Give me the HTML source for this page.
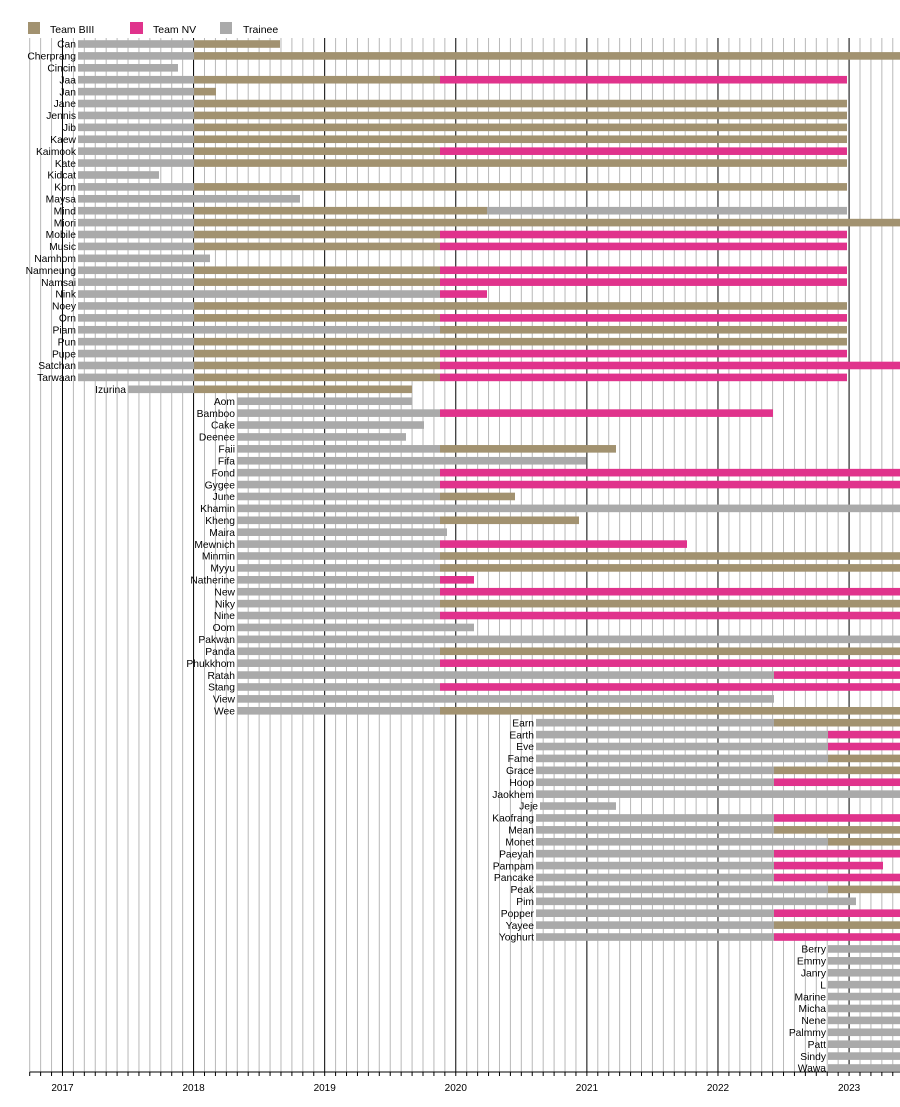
<!DOCTYPE html>
<html><head><meta charset="utf-8"><style>
html,body{margin:0;padding:0;background:#fff;}
svg{display:block;font-family:"Liberation Sans",sans-serif;}
</style></head><body>
<svg id="c" width="900" height="1107" xmlns="http://www.w3.org/2000/svg"></svg>
<script>
const svg=document.getElementById('c');
let h='';
const O='#a29270',P='#e0338c',G='#aaaaaa';
h+=`<rect x="28" y="22" width="12" height="12" fill="${O}"/><text x="50" y="33" font-size="10.5">Team BIII</text>`;
h+=`<rect x="130" y="22" width="13" height="12" fill="${P}"/><text x="153" y="33" font-size="10.5">Team NV</text>`;
h+=`<rect x="220" y="22" width="12" height="12" fill="${G}"/><text x="243" y="33" font-size="10.5">Trainee</text>`;
const m=131.1/12;
for(let i=0;;i++){const x=29.7+i*m;if(x>900)break;const yr=(i%12)==3;
h+=`<line x1="${x}" y1="38" x2="${x}" y2="1072" stroke="${yr?'#000':'#b8b8b8'}" stroke-width="1"/>`;
h+=`<line x1="${x}" y1="1072" x2="${x}" y2="1076" stroke="#000"/>`;}
h+=`<line x1="29.7" y1="1072" x2="900" y2="1072" stroke="#000"/>`;
for(let y=0;y<7;y++){h+=`<text x="${62.5+y*131.1}" y="1091" font-size="10" text-anchor="middle">${2017+y}</text>`;}
const rows=[
['Can',78,[[194,G],[280,O]]],['Cherprang',78,[[194,G],[900,O]]],['Cincin',78,[[178,G]]],
['Jaa',78,[[194,G],[440,O],[847,P]]],['Jan',78,[[194,G],[216,O]]],['Jane',78,[[194,G],[847,O]]],
['Jennis',78,[[194,G],[847,O]]],['Jib',78,[[194,G],[847,O]]],['Kaew',78,[[194,G],[847,O]]],
['Kaimook',78,[[194,G],[440,O],[847,P]]],['Kate',78,[[194,G],[847,O]]],['Kidcat',78,[[159,G]]],
['Korn',78,[[194,G],[847,O]]],['Maysa',78,[[300,G]]],['Mind',78,[[194,G],[487,O],[847,G]]],
['Miori',78,[[194,G],[900,O]]],['Mobile',78,[[194,G],[440,O],[847,P]]],['Music',78,[[194,G],[440,O],[847,P]]],
['Namhom',78,[[210,G]]],['Namneung',78,[[194,G],[440,O],[847,P]]],['Namsai',78,[[194,G],[440,O],[847,P]]],
['Nink',78,[[440,G],[487,P]]],['Noey',78,[[194,G],[847,O]]],['Orn',78,[[194,G],[440,O],[847,P]]],
['Piam',78,[[440,G],[847,O]]],['Pun',78,[[194,G],[847,O]]],['Pupe',78,[[194,G],[440,O],[847,P]]],
['Satchan',78,[[194,G],[440,O],[900,P]]],['Tarwaan',78,[[194,G],[440,O],[847,P]]],
['Izurina',128,[[194,G],[412,O]]],
['Aom',237,[[412,G]]],['Bamboo',237,[[440,G],[773,P]]],['Cake',237,[[424,G]]],['Deenee',237,[[406,G]]],
['Faii',237,[[440,G],[616,O]]],['Fifa',237,[[586,G]]],['Fond',237,[[440,G],[900,P]]],['Gygee',237,[[440,G],[900,P]]],
['June',237,[[440,G],[515,O]]],['Khamin',237,[[900,G]]],['Kheng',237,[[440,G],[579,O]]],['Maira',237,[[447,G]]],
['Mewnich',237,[[440,G],[687,P]]],['Minmin',237,[[440,G],[900,O]]],['Myyu',237,[[440,G],[900,O]]],
['Natherine',237,[[440,G],[474,P]]],['New',237,[[440,G],[900,P]]],['Niky',237,[[440,G],[900,O]]],
['Nine',237,[[440,G],[900,P]]],['Oom',237,[[474,G]]],['Pakwan',237,[[900,G]]],['Panda',237,[[440,G],[900,O]]],
['Phukkhom',237,[[440,G],[900,P]]],['Ratah',237,[[774,G],[900,P]]],['Stang',237,[[440,G],[900,P]]],
['View',237,[[774,G]]],['Wee',237,[[440,G],[900,O]]],
['Earn',536,[[774,G],[900,O]]],['Earth',536,[[828,G],[900,P]]],['Eve',536,[[828,G],[900,P]]],
['Fame',536,[[828,G],[900,O]]],['Grace',536,[[774,G],[900,O]]],['Hoop',536,[[774,G],[900,P]]],
['Jaokhem',536,[[900,G]]],['Jeje',540,[[616,G]]],['Kaofrang',536,[[774,G],[900,P]]],
['Mean',536,[[774,G],[900,O]]],['Monet',536,[[828,G],[900,O]]],['Paeyah',536,[[774,G],[900,P]]],
['Pampam',536,[[774,G],[883,P]]],['Pancake',536,[[774,G],[900,P]]],['Peak',536,[[828,G],[900,O]]],
['Pim',536,[[856,G]]],['Popper',536,[[774,G],[900,P]]],['Yayee',536,[[774,G],[900,O]]],['Yoghurt',536,[[774,G],[900,P]]],
['Berry',828,[[900,G]]],['Emmy',828,[[900,G]]],['Janry',828,[[900,G]]],['L',828,[[900,G]]],['Marine',828,[[900,G]]],
['Micha',828,[[900,G]]],['Nene',828,[[900,G]]],['Palmmy',828,[[900,G]]],['Patt',828,[[900,G]]],['Sindy',828,[[900,G]]],['Wawa',828,[[900,G]]]
];
rows.forEach((r,i)=>{const cy=44+i*11.907;let x=r[1];
r[2].forEach(s=>{h+=`<rect x="${x}" y="${cy-3.8}" width="${s[0]-x}" height="7.6" fill="${s[1]}"/>`;x=s[0];});
h+=`<text x="${r[1]-2}" y="${cy+3.7}" font-size="10.3" text-anchor="end" letter-spacing="0">${r[0]}</text>`;
});
svg.innerHTML=h;
</script>
</body></html>
